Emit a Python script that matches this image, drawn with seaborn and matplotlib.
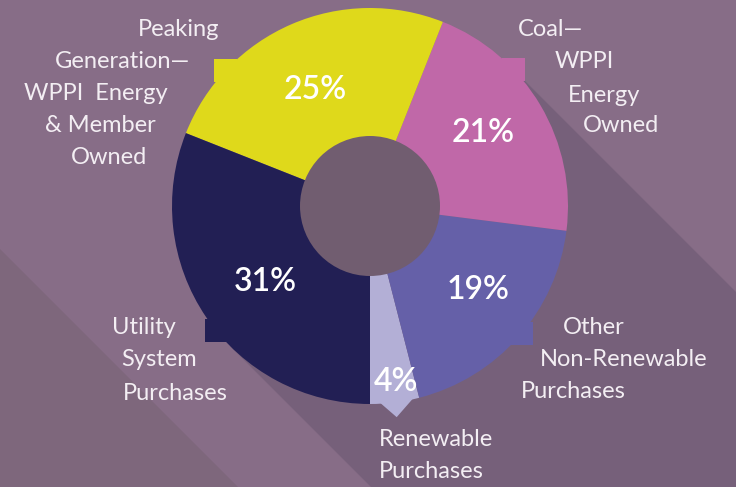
import numpy as np
import seaborn as sns
import matplotlib.pyplot as plt
from matplotlib.patches import Rectangle, Polygon, Circle

# Data (counter-clockwise from the bottom of the ring)
categories = ['Renewable Purchases', 'Other Non-Renewable Purchases', 'Coal—WPPI Energy Owned',
              'Peaking Generation—WPPI Energy & Member Owned', 'Utility System Purchases']
shares = [4, 19, 21, 25, 31]
pct_labels = ['4%', '19%', '21%', '25%', '31%']
slice_colors = ['#b3afd6', '#6560a8', '#c068a8', '#dfd91b', '#221f54']

# Style
sns.set_theme(style='white')
plt.rcParams['font.family'] = ['Lato', 'DejaVu Sans']
bg = '#876d87'
shadow_col = '#76607a'
corner_col = '#7e677c'
hole_col = '#715d70'
txt_col = '#f3eef3'

W, H = 736, 487
fig = plt.figure(figsize=(W / 100, H / 100), dpi=100)
ax = fig.add_axes([0, 0, 1, 1])
fig.patch.set_facecolor(bg)

def fy(y):
    # image pixel row -> data y
    return H - y

cx, cy = 370, fy(206)
R = 198
hole_r = 70

# background stripe in the lower left corner
ax.add_patch(Polygon([(0, 0), (0, H - 249), (H - 249, 0)], closed=True,
                     color=corner_col, lw=0, zorder=0))

# long shadow of the ring towards the bottom right
d = np.array([1, -1]) / np.sqrt(2)
n = np.array([1, 1]) / np.sqrt(2)
c = np.array([cx, cy])
L = 2000
shadow = [c + R * n, c + R * n + L * d, c - R * n + L * d, c - R * n]
ax.add_patch(Polygon(shadow, closed=True, color=shadow_col, lw=0, zorder=1))

# the ring
wedges, _ = ax.pie(shares, colors=slice_colors, startangle=270, counterclock=True,
                   radius=R, center=(cx, cy), frame=True,
                   wedgeprops=dict(linewidth=0, width=R))
for w in wedges:
    w.set_zorder(3)
ax.add_patch(Circle((cx, cy), hole_r, color=hole_col, lw=0, zorder=4))

# small square callout tabs sitting on the outer edge
bounds = np.cumsum([0] + shares) / 100 * 360 + 270
tab_angles = [None, 320, 43.5, 137, 219]
side = 23
for i, a in enumerate(tab_angles):
    if a is None:
        continue
    px = cx + R * np.cos(np.radians(a))
    py = cy + R * np.sin(np.radians(a))
    ax.add_patch(Rectangle((px - side / 2, py - side / 2), side, side,
                           color=slice_colors[i], lw=0, zorder=2))
# pointed tab for the small slice
a0, a1 = np.radians(bounds[0] + 2), np.radians(bounds[1] - 0.5)
am = np.radians((bounds[0] + bounds[1]) / 2)
tri = [(cx + R * 0.98 * np.cos(a0), cy + R * 0.98 * np.sin(a0)),
       (cx + R * 0.98 * np.cos(a1), cy + R * 0.98 * np.sin(a1)),
       (cx + R * 1.075 * np.cos(am), cy + R * 1.075 * np.sin(am))]
ax.add_patch(Polygon(tri, closed=True, color=slice_colors[0], lw=0, zorder=2))

ax.set_xlim(0, W)
ax.set_ylim(0, H)
ax.set_aspect('equal')
ax.axis('off')

# percentage labels
pct_pos = [(396, 382), (478, 290), (483, 133), (315, 90), (265, 282)]
for lab, (x, y) in zip(pct_labels, pct_pos):
    ax.text(x, fy(y), lab, color='white', fontsize=23, fontweight='semibold',
            ha='center', va='center', zorder=6)

# category labels, one text per line to follow the ring
label_lines = [
    [('Peaking', 219, 30, 'right'), ('Generation—', 190, 62, 'right'),
     ('WPPI  Energy', 168, 94, 'right'), ('& Member', 156, 126, 'right'),
     ('Owned', 147, 158, 'right')],
    [('Coal—', 518, 30, 'left'), ('WPPI', 555, 62, 'left'),
     ('Energy', 568, 95, 'left'), ('Owned', 583, 126, 'left')],
    [('Utility', 112, 328, 'left'), ('System', 121, 360, 'left'),
     ('Purchases', 123, 393, 'left')],
    [('Other', 563, 327, 'left'), ('Non-Renewable', 540, 360, 'left'),
     ('Purchases', 521, 392, 'left')],
    [('Renewable', 379, 439, 'left'), ('Purchases', 379, 471, 'left')],
]
for block in label_lines:
    for s, x, y, ha in block:
        ax.text(x, fy(y), s, color=txt_col, fontsize=17, ha=ha, va='center', zorder=6)

fig.savefig('out.png', dpi=100, facecolor=bg)
